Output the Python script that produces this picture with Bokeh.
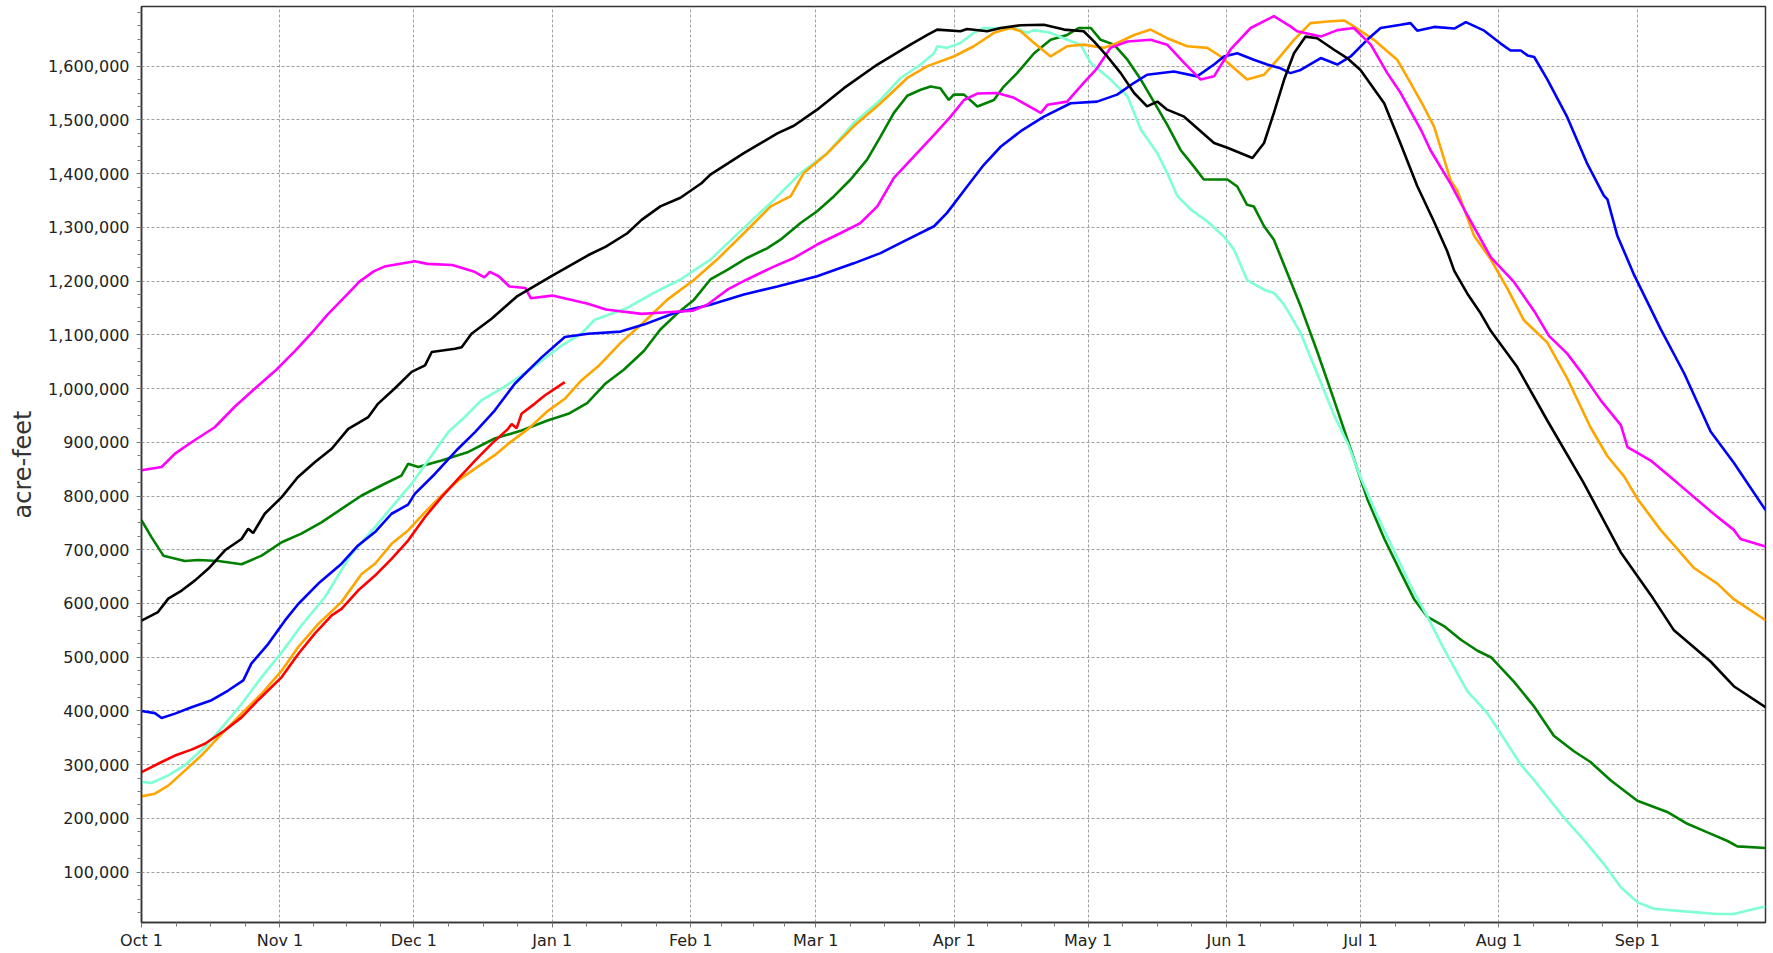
from bokeh.plotting import figure
from bokeh.models import Range1d, FixedTicker, NumeralTickFormatter
from bokeh.embed import file_html
from bokeh.resources import INLINE

# ---- x axis: days since Oct 1 (water year) ----
month_labels = ["Oct 1", "Nov 1", "Dec 1", "Jan 1", "Feb 1", "Mar 1",
                "Apr 1", "May 1", "Jun 1", "Jul 1", "Aug 1", "Sep 1"]
month_lengths = [31, 30, 31, 31, 28, 31, 30, 31, 30, 31, 31, 30]

y_ticks = [100000 * k for k in range(1, 17)]

# ---- series (day of water year, thousand acre-feet) ----
red_days = [0, 4.5, 7.5, 11.2, 14.2, 18.7, 22.4, 26.1, 31.4, 35.1, 38.8, 42.6, 44.8, 48.5, 52.3,
            56, 59.7, 63.5, 67.2, 70.9, 74.7, 78.4, 82.1, 82.9, 84, 85.1, 88.1, 90.3, 94.8]
red_kaf = [286, 305, 317, 328, 339, 364, 388, 420, 463, 506, 544, 578, 590, 624, 652,
           683, 717, 761, 798, 832, 866, 897, 925, 934, 926, 953, 972, 987, 1012]

black_days = [0, 3.7, 6, 9, 12, 15, 18.7, 22.4, 23.9, 25, 27.6, 31.4, 35, 38.8, 42.6, 46.3, 50.8, 53,
              56.7, 60.5, 63.5, 65, 70.2, 71.7, 73.9, 78.4, 84, 92, 100, 104, 108.8, 112, 116.2,
              120.7, 125.4, 127.4, 134.9, 142.4, 146.1, 151.3, 157.3, 164.8, 172.2, 176, 178.2,
              183.4, 184.9, 189.4, 192.4, 196.9, 202.1, 206.6, 211, 213.3, 216.3, 219.3, 222.3,
              225.2, 227.5, 229.7, 233.5, 237.2, 240.2, 243.2, 246.2, 248.8, 251.4, 253.6, 255.9,
              258.1, 260.7, 263.3, 267, 270, 273, 278.3, 282, 285.7, 289.5, 292.4, 294, 296.9,
              299.9, 302.2, 308.1, 314.8, 323, 331.3, 338, 343.2, 351.4, 356.6, 363.7]
black_kaf = [568, 584, 609, 624, 643, 665, 699, 720, 739, 731, 767, 798, 835, 863, 888, 925, 947, 972,
             1000, 1031, 1043, 1068, 1074, 1077, 1102, 1130, 1171, 1210, 1248, 1264, 1289, 1314, 1339,
             1355, 1382, 1398, 1438, 1475, 1489, 1519, 1559, 1603, 1640, 1658, 1668,
             1665, 1669, 1665, 1671, 1676, 1677, 1668, 1665, 1646, 1618, 1587, 1550,
             1525, 1534, 1519, 1506, 1479, 1457, 1448, 1438, 1429, 1457, 1513, 1575,
             1624, 1655, 1652, 1631, 1615, 1593, 1531, 1455, 1377, 1310, 1256, 1219, 1177,
             1140, 1107, 1040, 941, 824, 695, 616, 550, 492, 446, 407]

magenta_days = [0, 4.5, 7.5, 11.2, 16.4, 21, 25.4, 30.2, 34.4, 38.6, 41.6, 46.4, 48.8, 52, 54.4,
                61.2, 64, 69.6, 74.4, 76.8, 78, 80, 82.4, 86, 87.2, 92, 100, 104, 112, 117.7,
                123.5, 126.7, 131.2, 135.6, 141.6, 146.1, 151.3, 156.5, 161, 164.8, 168.5, 173,
                177.5, 181.2, 184.2, 187.2, 191.6, 195.4, 201.4, 202.9, 207.3, 211, 214, 217,
                220.8, 226, 229.7, 233.5, 237.2, 240.2, 243.9, 248.4, 253.6, 257.3, 258.8, 264.1,
                267.8, 271.5, 275.3, 279, 282, 286.5, 288.7, 293.2, 296.9, 302.2, 307.4, 311.9,
                315.2, 319.3, 323, 326.8, 331.3, 332.8, 338, 344, 352.2, 356.6, 358.1, 363.7]
magenta_kaf = [848, 854, 879, 900, 928, 967, 1000, 1035, 1070, 1108, 1137, 1178, 1199, 1218, 1227,
               1237, 1232, 1230, 1218, 1207, 1217, 1209, 1190, 1187, 1168, 1173, 1158, 1147, 1139, 1142,
               1145, 1156, 1184, 1203, 1227, 1243, 1268, 1289, 1308, 1339, 1392, 1432,
               1472, 1506, 1537, 1549, 1550, 1541, 1513, 1528, 1534, 1569, 1596, 1634,
               1646, 1649, 1640, 1606, 1575, 1581, 1631, 1671, 1693, 1674, 1665, 1655,
               1667, 1671, 1640, 1587, 1550, 1482, 1443, 1381, 1323, 1244, 1198, 1144,
               1098, 1065, 1024, 978, 932, 891, 866, 824, 766, 737, 720, 706]

blue_days = [0, 3, 4.5, 7.5, 11.2, 15.7, 19.4, 22.8, 24.6, 28.4, 32.1, 35.1, 39.6, 44.8, 48.5, 52.3,
             56, 59.7, 61.2, 65.7, 70.9, 74.7, 79.1, 83.6, 89.6, 94.8, 100, 107.3, 112.5, 119.2,
             127.4, 134.9, 142.4, 151.3, 159.5, 165.5, 170.7, 177.5, 180.4, 184.9, 188.6, 192.4,
             196.9, 202.1, 208.1, 214, 218.5, 222.3, 225.2, 231.2, 236.4, 240.2, 242.4, 245.4,
             249.1, 252.1, 255.1, 257.3, 259.6, 264.1, 267.8, 270.8, 274.5, 277.5, 282, 284.2,
             285.7, 289.5, 294, 296.6, 300.7, 304.4, 306.6, 308.9, 310.4, 311.9, 314.8, 319.3,
             323.8, 327.5, 328.3, 330.5, 334.3, 340.2, 345.5, 351.4, 356.6, 363.7]
blue_kaf = [400, 396, 387, 395, 407, 420, 438, 457, 488, 525, 568, 599, 637, 674, 708, 733,
            767, 784, 804, 841, 888, 919, 959, 1009, 1058, 1096, 1102, 1106, 1119, 1140,
            1156, 1175, 1190, 1209, 1233, 1252, 1274, 1302, 1327, 1376, 1416, 1450,
            1479, 1506, 1531, 1534, 1547, 1569, 1584, 1590, 1581, 1603, 1618, 1624,
            1612, 1603, 1596, 1587, 1593, 1615, 1603, 1618, 1649, 1671, 1677, 1680,
            1666, 1673, 1670, 1682, 1666, 1642, 1629, 1629, 1620, 1617, 1576, 1505,
            1418, 1359, 1352, 1285, 1211, 1111, 1028, 920, 862, 774]

orange_days = [0, 3, 6, 9.7, 13.4, 17.9, 22.4, 26.9, 31.4, 35.1, 39.6, 44.8, 49.3, 52.3, 56, 59.7,
               63.5, 67.2, 70.9, 74.7, 79.1, 82.1, 86.6, 91.1, 94.8, 98.5, 102.6, 107.3, 112.3,
               117.7, 123.7, 128.9, 134.9, 140.9, 145.4, 148.3, 153.6, 159.5, 165.5, 171.5, 176,
               181.9, 186.4, 190.9, 194.6, 196.9, 199.9, 203.6, 207.3, 211, 215.5, 218.5, 222.3,
               226, 229.7, 234.2, 238.7, 241.7, 244.7, 247.6, 251.4, 254.4, 258.1, 261.8, 265.6,
               269.3, 271.5, 276, 281.2, 284.2, 287.2, 289.5, 293.2, 294.7, 298.4, 302.2, 305.9,
               309.6, 314.8, 319.3, 324.5, 328.3, 332, 335, 340.2, 347.7, 352.9, 356.6, 363.7]
orange_kaf = [241, 246, 261, 289, 317, 357, 395, 432, 475, 519, 562, 603, 655, 674, 711, 736,
              770, 801, 829, 851, 876, 897, 925, 959, 981, 1015, 1044, 1085, 1122,
              1165, 1202, 1240, 1289, 1339, 1358, 1401, 1438, 1488, 1531, 1578, 1600,
              1618, 1637, 1662, 1671, 1665, 1643, 1618, 1637, 1640, 1634, 1643, 1658,
              1668, 1652, 1637, 1634, 1618, 1596, 1575, 1584, 1612, 1649, 1680, 1683,
              1685, 1674, 1649, 1612, 1569, 1524, 1487, 1387, 1368, 1285, 1240, 1186,
              1127, 1086, 1019, 928, 874, 837, 795, 737, 666, 637, 608, 569]

aqua_days = [0, 2.2, 6, 9.7, 14.2, 18.7, 22.4, 26.9, 31.4, 35.8, 41.1, 47, 52.3, 56.7, 60.5, 64.2,
             68.7, 72.4, 76.1, 80.6, 85.1, 89.6, 94.1, 98.5, 101.5, 108.8, 114.7, 120.7, 127.4,
             134.9, 141.6, 147.6, 153.6, 159.5, 165.5, 170, 174.5, 177.5, 178.2, 180.4, 183.4,
             186.4, 188.6, 192.4, 195.4, 198.4, 199.9, 203.6, 207.3, 210.3, 212.6, 217, 220.8,
             223.8, 227.5, 229.7, 232, 235, 238.7, 242.4, 244.7, 247.6, 251.4, 253.6, 255.9,
             259.6, 263.3, 267.1, 270.3, 273, 276.8, 280.5, 284.2, 288, 291.7, 296.9, 301.4,
             304.4, 308.9, 311.9, 318.6, 323.1, 327.5, 331.3, 335, 338.7, 345.5, 352.9, 356.6,
             360.4, 363.7]
aqua_kaf = [268, 266, 280, 299, 333, 376, 413, 463, 509, 559, 612, 692, 742, 786, 823, 866,
            919, 947, 978, 1000, 1024, 1052, 1080, 1102, 1128, 1150, 1178, 1203, 1240,
            1299, 1351, 1401, 1438, 1494, 1537, 1578, 1603, 1624, 1637, 1634, 1643,
            1662, 1671, 1670, 1671, 1662, 1667, 1662, 1649, 1640, 1606, 1575, 1544,
            1482, 1438, 1401, 1358, 1333, 1311, 1283, 1258, 1202, 1184, 1178, 1156,
            1103, 1028, 950, 895, 835, 762, 698, 633, 575, 515, 437, 396,
            358, 300, 271, 201, 159, 115, 72, 44, 32, 27, 22, 22,
            30, 36]

green_days = [0, 2.2, 4.9, 9.7, 12.7, 17.2, 22.4, 26.9, 31.4, 35.8, 40.3, 44.8, 49.3, 53.8, 58.2,
              59.7, 62, 67.2, 73.2, 79.1, 85.1, 91.1, 95.6, 99.8, 104, 108, 112.5, 116.2, 120,
              123.7, 127.4, 131.2, 135.6, 140.1, 143.1, 147.6, 151.3, 155.1, 158.8, 162.5, 165.5,
              168.5, 171.5, 174.5, 176.7, 178.9, 180.8, 181.9, 184.2, 187.2, 190.9, 193.1, 196.1,
              199.9, 203.6, 207.3, 209.9, 212.6, 214.8, 217.8, 220.8, 223.8, 226.7, 229.7, 232.7,
              235.7, 237.9, 243.2, 245.4, 247.6, 249.1, 251.4, 253.6, 256.6, 259.6, 263.3, 267.1,
              270.8, 274.5, 278.3, 282, 285, 288, 291.7, 295.4, 299.2, 302.2, 307.4, 311.9, 316.3,
              320.8, 324.5, 329, 335, 341.7, 346.2, 350.7, 355.2, 357.4, 363.7]
green_kaf = [755, 724, 689, 679, 681, 679, 673, 689, 714, 730, 751, 776, 801, 820, 838,
             860, 854, 866, 882, 907, 922, 941, 953, 973, 1010, 1035, 1070, 1110, 1140,
             1165, 1203, 1221, 1243, 1261, 1277, 1308, 1330, 1358, 1389, 1426, 1469,
             1513, 1545, 1556, 1562, 1559, 1537, 1547, 1547, 1525, 1537, 1562, 1587,
             1624, 1649, 1658, 1671, 1671, 1649, 1640, 1612, 1575, 1534, 1491, 1444,
             1413, 1389, 1389, 1376, 1342, 1339, 1302, 1277, 1215, 1153, 1069, 978,
             887, 795, 721, 658, 608, 575, 558, 533, 512, 500, 454, 408, 354,
             325, 305, 271, 233, 212, 190, 174, 158, 148, 145]

series = [
    (green_days, green_kaf, "#008000"),
    (aqua_days, aqua_kaf, "#7fffd4"),
    (orange_days, orange_kaf, "#ffa500"),
    (blue_days, blue_kaf, "#0000ff"),
    (magenta_days, magenta_kaf, "#ff00ff"),
    (black_days, black_kaf, "#000000"),
    (red_days, red_kaf, "#ff0000"),
]

# ---- figure ----
p = figure(width=1768, height=952, output_backend="svg", toolbar_location=None,
           x_range=Range1d(0, 363.7), y_range=Range1d(6300, 1711000),
           min_border_left=141, min_border_right=3, min_border_top=6, min_border_bottom=0,
           background_fill_color="white", border_fill_color="white")

# ticks
month_starts = []
acc = 0
for n in month_lengths:
    month_starts.append(acc)
    acc += n
minor_x = []
for s, n in zip(month_starts, month_lengths):
    minor_x += [s + n * k / 4 for k in (1, 2, 3)]

p.xaxis.ticker = FixedTicker(ticks=month_starts, minor_ticks=minor_x)
p.xaxis.major_label_overrides = {s: lbl for s, lbl in zip(month_starts, month_labels)}
p.yaxis.ticker = FixedTicker(ticks=y_ticks, minor_ticks=[25000 * k for k in range(1, 69)])
p.yaxis.formatter = NumeralTickFormatter(format="0,0")
p.yaxis.axis_label = "acre-feet"

for ax in (p.xaxis[0], p.yaxis[0]):
    ax.major_label_text_font = "DejaVu Sans"
    ax.major_label_text_font_size = "16px"
    ax.major_label_text_color = "#222222"
    ax.axis_line_color = "#333333"
    ax.axis_line_width = 1.5
    ax.major_tick_line_color = "#777777"
    ax.minor_tick_line_color = "#777777"
    ax.major_tick_in = 0
    ax.minor_tick_in = 0
    ax.major_tick_out = 5
    ax.minor_tick_out = 4

p.xaxis.major_label_standoff = 3
p.yaxis.major_label_standoff = 7
p.yaxis.axis_label_text_font = "DejaVu Sans"
p.yaxis.axis_label_text_font_size = "24px"
p.yaxis.axis_label_text_font_style = "normal"
p.yaxis.axis_label_text_color = "#333333"
p.yaxis.axis_label_standoff = 8

for g in (p.xgrid[0], p.ygrid[0]):
    g.grid_line_color = "#a0a0a0"
    g.grid_line_dash = "3 2"
    g.grid_line_width = 1

p.outline_line_color = "#333333"
p.outline_line_width = 1.5

for days, kaf, color in series:
    p.line([d for d in days], [v * 1000 for v in kaf], line_color=color, line_width=2.6)

open("out.html", "w").write(file_html(p, INLINE))
